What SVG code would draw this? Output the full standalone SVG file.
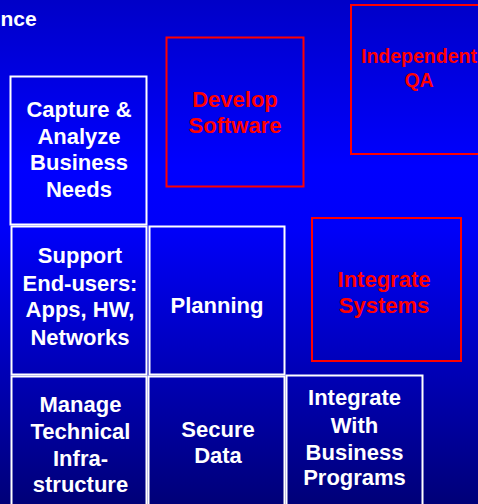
<svg xmlns="http://www.w3.org/2000/svg" width="478" height="504" viewBox="0 0 478 504">
<defs>
<linearGradient id="bg" x1="0" y1="0" x2="0" y2="1">
<stop offset="0" stop-color="#0000C8"/>
<stop offset="0.33" stop-color="#0000FF"/>
<stop offset="0.46" stop-color="#0000F8"/>
<stop offset="1" stop-color="#000078"/>
</linearGradient>
<style>
.w{fill:none;stroke:#FFFFFF;stroke-width:2}
.r{fill:none;stroke:#FF0000;stroke-width:2}
text{font-family:"Liberation Sans",Arial,sans-serif;font-weight:bold;text-anchor:middle}
.tw{fill:#FFFFFF;font-size:22px}
.tr{fill:#FF0000;font-size:22px}
.ts{fill:#FF0000;font-size:19.5px}
</style>
</defs>
<rect x="0" y="0" width="478" height="504" fill="url(#bg)"/>
<text x="0.5" y="26" class="tw" style="text-anchor:start;font-size:21px">nce</text>
<g id="connectors"></g>
<g id="capture">
<rect class="w" x="10.5" y="76.5" width="136" height="148"/>
<text class="tw" x="79" y="117">Capture &amp;</text>
<text class="tw" x="79" y="144">Analyze</text>
<text class="tw" x="79" y="170">Business</text>
<text class="tw" x="79" y="197">Needs</text>
</g>
<g id="support">
<rect class="w" x="11.5" y="226.5" width="135" height="148"/>
<text class="tw" x="80" y="263">Support</text>
<text class="tw" x="80" y="290.5">End-users:</text>
<text class="tw" x="80" y="317">Apps, HW,</text>
<text class="tw" x="80" y="344.5">Networks</text>
</g>
<g id="planning">
<rect class="w" x="149.5" y="226.5" width="135" height="148"/>
<text class="tw" x="217" y="313">Planning</text>
</g>
<g id="manage">
<rect class="w" x="11.5" y="376.5" width="135" height="140"/>
<text class="tw" x="80.5" y="411.5">Manage</text>
<text class="tw" x="80.5" y="439">Technical</text>
<text class="tw" x="80.5" y="466">Infra-</text>
<text class="tw" x="80.5" y="491.5">structure</text>
</g>
<g id="secure">
<rect class="w" x="148.5" y="376.5" width="136" height="140"/>
<text class="tw" x="218" y="436.5">Secure</text>
<text class="tw" x="218" y="463">Data</text>
</g>
<g id="integrate-with">
<rect class="w" x="286.5" y="375.5" width="136" height="140"/>
<text class="tw" x="354.5" y="405">Integrate</text>
<text class="tw" x="354.5" y="432.5">With</text>
<text class="tw" x="354.5" y="460">Business</text>
<text class="tw" x="354.5" y="485">Programs</text>
</g>
<g id="develop">
<rect class="r" x="166.5" y="37.5" width="137" height="149"/>
<text class="tr" x="235" y="107">Develop</text>
<text class="tr" x="235" y="133">Software</text>
</g>
<g id="independent-qa">
<rect class="r" x="351" y="5" width="140" height="149"/>
<text class="ts" x="419" y="63">Independent</text>
<text class="ts" x="419" y="87">QA</text>
</g>
<g id="integrate-systems">
<rect class="r" x="312" y="218" width="149" height="143"/>
<text class="tr" x="384" y="286.5">Integrate</text>
<text class="tr" x="384" y="312.5">Systems</text>
</g>
</svg>
